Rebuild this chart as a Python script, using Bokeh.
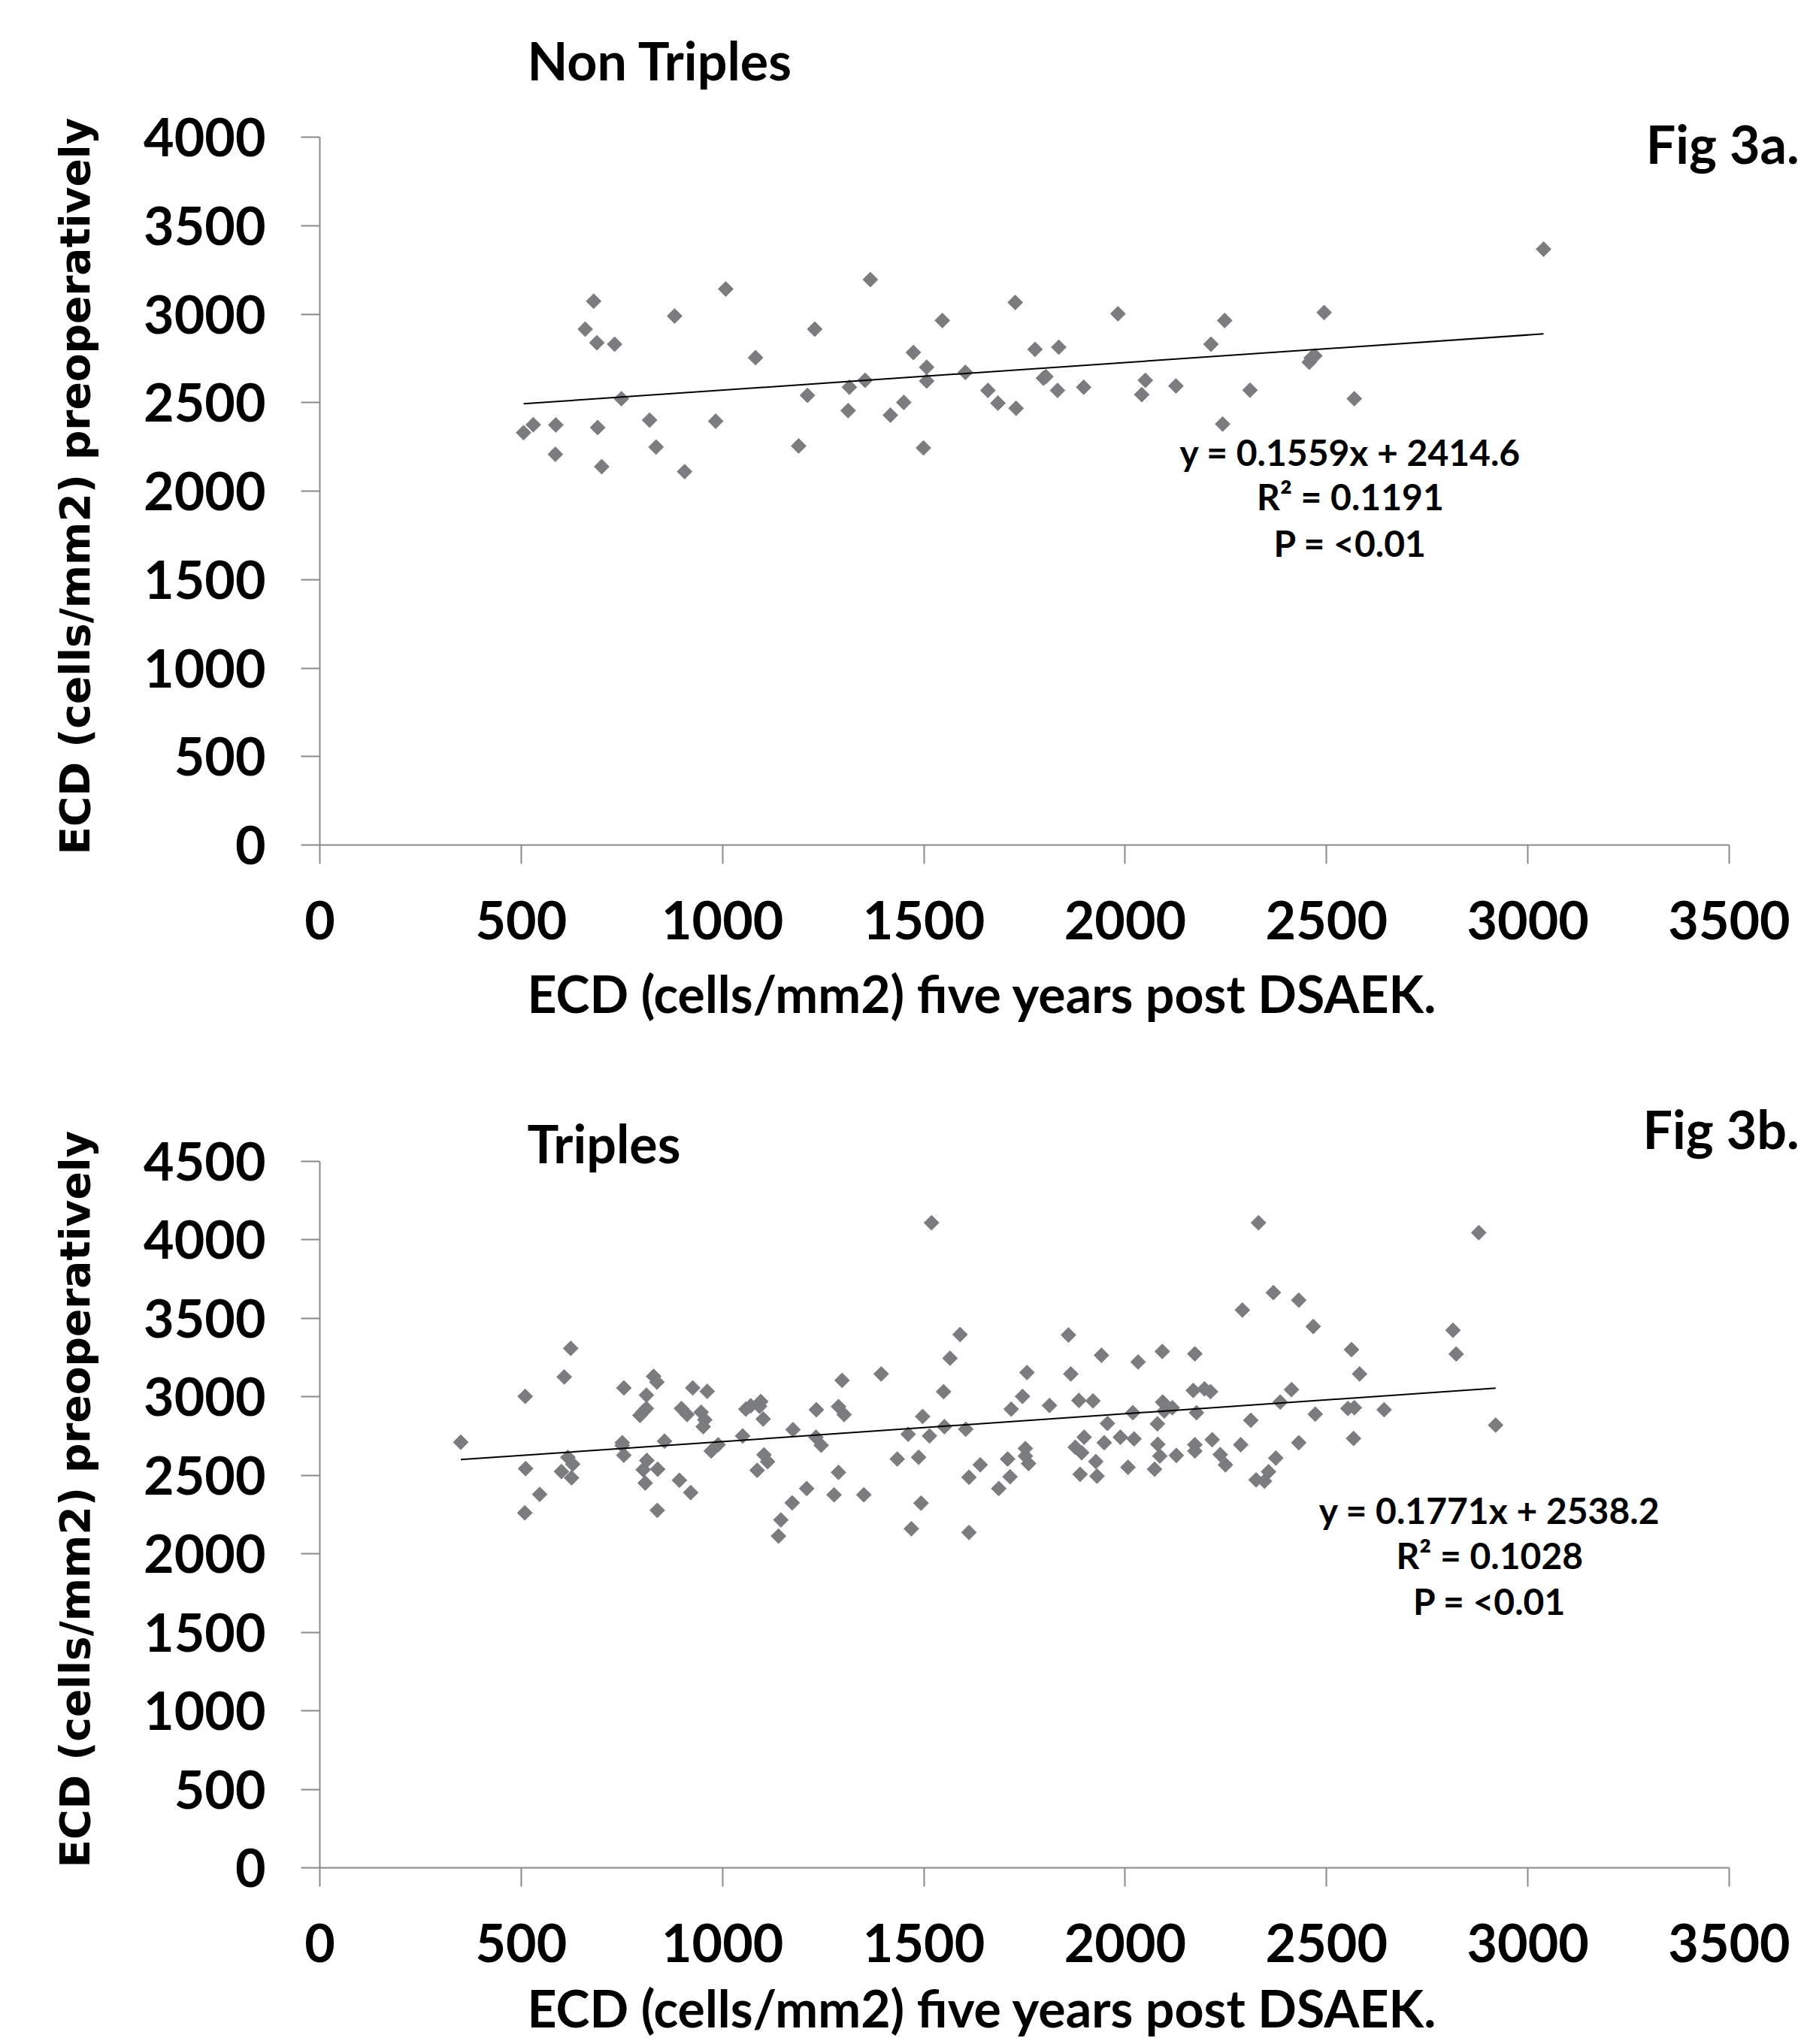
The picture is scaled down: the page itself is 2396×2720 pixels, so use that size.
import numpy as np
from bokeh.plotting import figure
from bokeh.layouts import column
from bokeh.models import Range1d, FixedTicker, Label, Title
from bokeh.embed import file_html
from bokeh.resources import INLINE

# ---------------- data ----------------
# Fig 3a - Non Triples: ECD five years post DSAEK (x) vs ECD preoperatively (y)
nt_x = [506, 530, 586, 585, 680, 659, 688, 732, 690, 700, 749, 819, 835, 881, 906,
        983, 1008, 1082, 1189, 1211, 1229, 1312, 1315, 1354, 1367, 1417, 1450, 1474,
        1507, 1507, 1499, 1546, 1603, 1659, 1684, 1729, 1727, 1776, 1797, 1803, 1832,
        1835, 1897, 1982, 3039, 2494, 2247, 2213, 2462, 2471, 2457, 2050, 2041, 2126,
        2310, 2569, 2242]
nt_y = [2330, 2375, 2374, 2208, 3073, 2915, 2838, 2830, 2359, 2138, 2522, 2401, 2249,
        2989, 2110, 2395, 3142, 2754, 2255, 2541, 2915, 2455, 2587, 2626, 3195, 2429,
        2501, 2783, 2700, 2622, 2244, 2964, 2671, 2569, 2497, 2468, 3066, 2801, 2638,
        2647, 2569, 2813, 2587, 3002, 3367, 3009, 2964, 2830, 2752, 2764, 2728, 2626,
        2545, 2594, 2570, 2522, 2379]

# Fig 3b - Triples
tr_x = [350, 510, 511, 546, 509, 623, 607, 616, 628, 600, 625, 755, 751, 751, 755,
        829, 837, 811, 811, 795, 803, 856, 812, 803, 839, 808, 838, 893, 921, 926,
        962, 898, 912, 947, 956, 952, 972, 989, 1050, 1058, 1070, 1095, 1092, 1101,
        1103, 1112, 1086,
        1139, 1145, 1173, 1209, 1175, 1233, 1232, 1245, 1297, 1288, 1302, 1288, 1277,
        1351, 1394, 1434, 1461, 1487, 1497, 1514, 1493, 1469, 1551, 1549, 1565, 1590,
        1604, 1612, 1640, 1612, 1686, 1714, 1708, 1717, 1745, 1756, 1752, 1752, 1760,
        1812, 1859, 1865, 1885, 1920, 1898, 1876, 1892, 1888, 1927, 1930, 1941, 1956,
        1948,
        2032, 2092, 2173, 2291, 2368, 2431, 2467, 2562, 2582, 2019, 1988, 2022, 2007,
        2073, 2080, 2093, 2097, 2117, 2081, 2086, 2127, 2169, 2197, 2212, 2177, 2173,
        2173, 2216, 2236, 2249, 2287, 2312, 2325, 2346, 2356, 2374, 2385, 2413, 2431,
        2472, 2553, 2569, 2567, 2643,
        1519, 2331, 2878, 2814, 2822, 2920]
tr_y = [2711, 3003, 2543, 2379, 2261, 3309, 3127, 2615, 2571, 2524, 2484, 3057, 2708,
        2690, 2628, 3131, 3094, 3011, 2926, 2882, 2905, 2718, 2595, 2536, 2539, 2451,
        2277, 2469, 2390, 3057, 3035, 2926, 2887, 2902, 2854, 2810, 2655, 2695, 2751,
        2922, 2943, 2970, 2940, 2859, 2631, 2587, 2532,
        2113, 2216, 2325, 2416, 2791, 2918, 2743, 2692, 3105, 2938, 2887, 2519, 2376,
        2376, 3146, 2604, 2762, 2615, 2875, 2751, 2323, 2160, 2810, 3033, 3246, 3397,
        2794, 2488, 2567, 2136, 2416, 2491, 2604, 2922, 3003, 3155, 2671, 2623, 2575,
        2945, 3394, 3146, 2977, 2974, 2743, 2679, 2644, 2507, 2588, 2495, 3265, 2831,
        2708,
        3222, 3289, 3274, 3553, 3664, 3616, 3448, 3301, 3146, 2899, 2743, 2732, 2551,
        2539, 2828, 2967, 2910, 2931, 2698, 2623, 2627, 3041, 3051, 3033, 2899, 2695,
        2655, 2727, 2632, 2567, 2695, 2851, 2471, 2463, 2523, 2610, 2967, 3046, 2708,
        2890, 2926, 2931, 2735, 2918,
        4109, 4109, 4046, 3424, 3273, 2820]

x_ticks = [0, 500, 1000, 1500, 2000, 2500, 3000, 3500]
nt_y_ticks = [0, 500, 1000, 1500, 2000, 2500, 3000, 3500, 4000]
tr_y_ticks = [0, 500, 1000, 1500, 2000, 2500, 3000, 3500, 4000, 4500]

nt_fit = (0.1559, 2414.6)
tr_fit = (0.1771, 2538.2)

nt_eq = ["y = 0.1559x + 2414.6", "R\u00b2 = 0.1191", "P = <0.01"]
tr_eq = ["y = 0.1771x + 2538.2", "R\u00b2 = 0.1028", "P = <0.01"]

X_LABEL = "ECD (cells/mm2) five years post DSAEK."
Y_LABEL = "ECD (cells/mm2) preoperatively"

MAIN_FONT = "Lato"
AXIS_GRAY = "#8a8a8a"
MARK_GRAY = "#7a7c80"

# ---------------- layout constants (pixels) ----------------
BORDER_LEFT = 425
AXIS_PX = 1875          # pixels from x=0 to x=3500
FRAME_W = 1971          # frame extends to the right edge of the canvas


def make_panel(xs, ys, yticks, fit, title, fig_label, eq_lines,
               frame_h, axis_px_h, b_bottom, title_y, fig_y, eq_x, eq_ys,
               ylab_offset, xlab_standoff):
    xmax = x_ticks[-1]
    ymax = yticks[-1]
    x_end = xmax * FRAME_W / AXIS_PX
    y_end = ymax * frame_h / axis_px_h
    p = figure(frame_width=FRAME_W, frame_height=frame_h,
               x_range=Range1d(0, x_end), y_range=Range1d(0, y_end),
               output_backend="svg", toolbar_location=None,
               min_border_left=BORDER_LEFT, min_border_right=0,
               min_border_top=0, min_border_bottom=b_bottom)
    p.title = None
    p.grid.visible = False
    p.outline_line_color = None
    p.background_fill_color = "white"
    p.border_fill_color = "white"

    for ax, ticks, bnd, st in ((p.xaxis[0], x_ticks, (0, xmax), 49),
                               (p.yaxis[0], yticks, (0, ymax), 47)):
        ax.ticker = FixedTicker(ticks=ticks)
        ax.bounds = bnd
        ax.axis_line_color = AXIS_GRAY
        ax.axis_line_width = 2
        ax.major_tick_line_color = AXIS_GRAY
        ax.major_tick_line_width = 2
        ax.major_tick_in = 0
        ax.major_tick_out = 25
        ax.minor_tick_line_color = None
        ax.major_label_text_font = MAIN_FONT
        ax.major_label_text_font_style = "bold"
        ax.major_label_text_font_size = "70px"
        ax.major_label_text_color = "black"
        ax.major_label_standoff = st

    p.add_layout(Title(text=X_LABEL, align="left", offset=276,
                       standoff=xlab_standoff,
                       text_font=MAIN_FONT, text_font_style="bold",
                       text_font_size="68px", text_color="black"), "below")
    p.add_layout(Title(text=Y_LABEL, align="left", offset=ylab_offset,
                       standoff=114,
                       text_font="DejaVu Sans", text_font_style="bold",
                       text_font_size="55px", text_color="black"), "left")

    p.scatter(xs, ys, marker="square", size=14, angle=np.pi / 4,
              fill_color=MARK_GRAY, line_color=MARK_GRAY)

    slope, intercept = fit
    lx = np.array([min(xs), max(xs)], dtype=float)
    p.line(lx, slope * lx + intercept, line_color="black", line_width=2)

    p.add_layout(Label(x=515, y=title_y, text=title,
                       text_font=MAIN_FONT, text_font_style="bold",
                       text_font_size="70px", text_align="left",
                       text_baseline="alphabetic", text_color="black"))
    p.add_layout(Label(x=3674, y=fig_y, text=fig_label,
                       text_font=MAIN_FONT, text_font_style="bold",
                       text_font_size="70px", text_align="right",
                       text_baseline="alphabetic", text_color="black"))
    for line, ly in zip(eq_lines, eq_ys):
        p.add_layout(Label(x=eq_x, y=ly, text=line,
                           text_font=MAIN_FONT, text_font_style="bold",
                           text_font_size="48px", text_align="center",
                           text_baseline="alphabetic", text_color="black"))
    return p


p1 = make_panel(nt_x, nt_y, nt_y_ticks, nt_fit, "Non Triples", "Fig 3a.", nt_eq,
                frame_h=1124, axis_px_h=942, b_bottom=262,
                title_y=4435, fig_y=3963, eq_x=2559, eq_ys=[2220, 1970, 1707],
                ylab_offset=-13, xlab_standoff=53)
p2 = make_panel(tr_x, tr_y, tr_y_ticks, tr_fit, "Triples", "Fig 3b.", tr_eq,
                frame_h=1097, axis_px_h=940, b_bottom=237,
                title_y=4619, fig_y=4710, eq_x=2905, eq_ys=[2278, 1991, 1699],
                ylab_offset=0, xlab_standoff=30)

layout = column(p1, p2, spacing=0)
open("out.html", "w").write(file_html(layout, INLINE))
